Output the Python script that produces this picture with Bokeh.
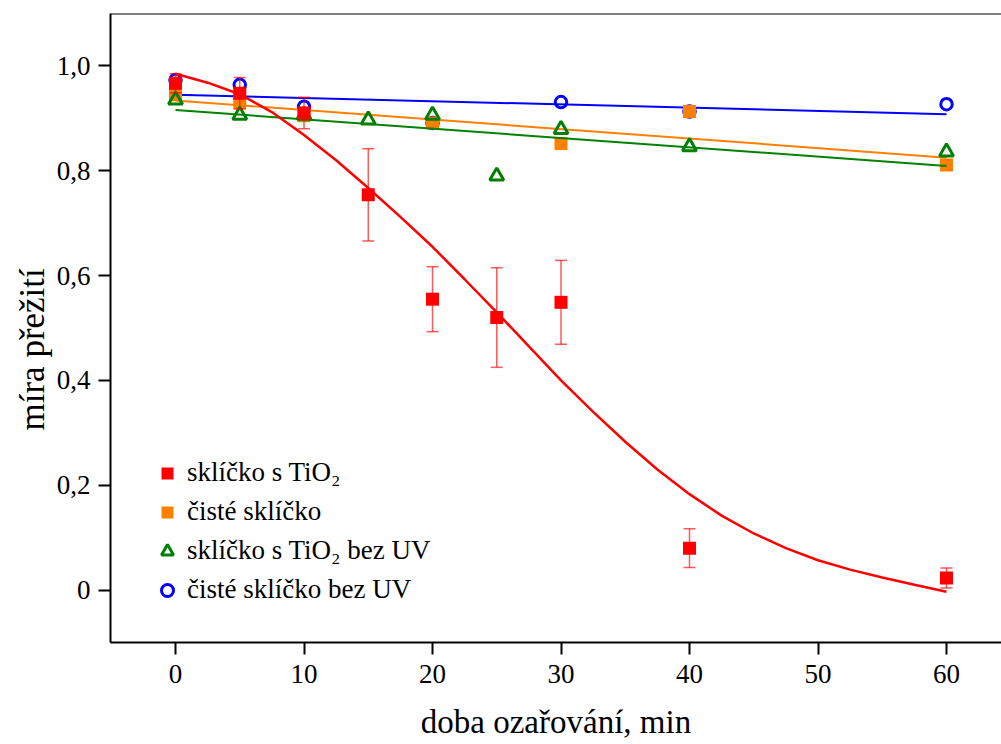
from bokeh.plotting import figure
from bokeh.models import (ColumnDataSource, Whisker, TeeHead, Legend, LegendItem,
                          FixedTicker, CustomJSTickFormatter, Span, Range1d, Title)
from bokeh.embed import file_html
from bokeh.resources import INLINE

# ---- data ----
time_tio2 = [0, 5, 10, 15, 20, 25, 30, 40, 60]
surv_tio2 = [0.967, 0.948, 0.910, 0.754, 0.555, 0.520, 0.549, 0.080, 0.023]
err_tio2 = [0.018, 0.030, 0.030, 0.088, 0.062, 0.095, 0.080, 0.037, 0.019]

time_clean = [0, 5, 10, 20, 30, 40, 60]
surv_clean = [0.945, 0.930, 0.905, 0.891, 0.852, 0.913, 0.811]

time_tio2_dark = [0, 5, 10, 15, 20, 25, 30, 40, 60]
surv_tio2_dark = [0.935, 0.906, 0.906, 0.897, 0.906, 0.790, 0.879, 0.846, 0.836]

time_clean_dark = [0, 5, 10, 20, 30, 40, 60]
surv_clean_dark = [0.973, 0.964, 0.922, 0.891, 0.931, 0.913, 0.927]

fit_x = [0, 60]
fit_clean = [0.934, 0.825]
fit_tio2_dark = [0.916, 0.809]
fit_clean_dark = [0.945, 0.908]

fit_tio2_x = [0, 2.5, 5, 7.5, 10, 12.5, 15, 17.5, 20, 22.5, 25, 27.5, 30,
              32.5, 35, 37.5, 40, 42.5, 45, 47.5, 50, 52.5, 55, 57.5, 60]
fit_tio2_y = [0.985, 0.968, 0.946, 0.912, 0.868, 0.820, 0.767, 0.712, 0.655,
              0.593, 0.530, 0.465, 0.400, 0.340, 0.283, 0.230, 0.183, 0.142,
              0.108, 0.080, 0.057, 0.039, 0.024, 0.010, -0.003]

labels = ["sklíčko s TiO₂", "čisté sklíčko", "sklíčko s TiO₂ bez UV", "čisté sklíčko bez UV"]
x_title = "doba ozařování, min"
y_title = "míra přežití"
y_ticks = [0, 0.2, 0.4, 0.6, 0.8, 1.0]
x_ticks = [0, 10, 20, 30, 40, 50, 60]
x_lim = (-5.06, 64.28)
y_lim = (-0.1, 1.1)

RED = "#ff0000"
ORANGE = "#ff8000"
GREEN = "#008000"
BLUE = "#0000ff"
FONT = "Liberation Serif"

p = figure(width=1001, height=744, output_backend="svg", toolbar_location=None,
           x_range=Range1d(*x_lim), y_range=Range1d(*y_lim),
           min_border_left=110, min_border_right=0, min_border_top=13,
           min_border_bottom=102)
p.outline_line_color = None
p.xgrid.visible = False
p.ygrid.visible = False
p.background_fill_color = "white"

# top frame line
p.add_layout(Span(location=y_lim[1], dimension="width", line_color="black", line_width=2))

# blue (clean, no UV)
p.line(fit_x, fit_clean_dark, line_color=BLUE, line_width=2)
r_blue = p.scatter(time_clean_dark, surv_clean_dark, marker="circle", size=11.5,
                   fill_color=None, line_color=BLUE, line_width=3)
# orange (clean)
p.line(fit_x, fit_clean, line_color=ORANGE, line_width=2)
r_orange = p.scatter(time_clean, surv_clean, marker="square", size=13,
                     fill_color=ORANGE, line_color=ORANGE, line_width=0)
# green (TiO2, no UV)
p.line(fit_x, fit_tio2_dark, line_color=GREEN, line_width=2)
r_green = p.scatter(time_tio2_dark, surv_tio2_dark, marker="triangle", size=14,
                    fill_color=None, line_color=GREEN, line_width=3)
# red (TiO2)
src = ColumnDataSource(dict(x=time_tio2, y=surv_tio2,
                            upper=[v + e for v, e in zip(surv_tio2, err_tio2)],
                            lower=[v - e for v, e in zip(surv_tio2, err_tio2)]))
wh = Whisker(source=src, base="x", upper="upper", lower="lower",
             line_color=RED, line_alpha=0.65, line_width=1.5, level="glyph",
             upper_head=TeeHead(size=12, line_color=RED, line_alpha=0.65, line_width=1.5),
             lower_head=TeeHead(size=12, line_color=RED, line_alpha=0.65, line_width=1.5))
p.add_layout(wh)
r_red = p.scatter("x", "y", source=src, marker="square", size=13,
                  fill_color=RED, line_color=RED, line_width=0)
p.line(fit_tio2_x, fit_tio2_y, line_color=RED, line_width=2.5)

# axes
for ax in (p.xaxis[0], p.yaxis[0]):
    ax.axis_line_width = 2
    ax.major_tick_line_width = 2
    ax.major_tick_out = 12
    ax.major_tick_in = 0
    ax.minor_tick_line_color = None
    ax.major_label_text_font = FONT
    ax.major_label_text_font_size = "27px"
    ax.major_label_text_color = "black"
    ax.axis_label_text_font = FONT
    ax.axis_label_text_font_style = "normal"
    ax.axis_label_text_color = "black"

p.xaxis.ticker = FixedTicker(ticks=x_ticks)
p.yaxis.ticker = FixedTicker(ticks=y_ticks)
p.yaxis.formatter = CustomJSTickFormatter(
    code='return tick == 0 ? "0" : tick.toFixed(1).replace(".", ",");')
p.xaxis.major_label_standoff = 10
p.yaxis.major_label_standoff = 8
p.xaxis.axis_label = x_title
p.xaxis.axis_label_text_font_size = "33px"
p.xaxis.axis_label_standoff = 18

# y title placed like the reference (slightly below the axis centre)
p.add_layout(Title(text=y_title, align="left", offset=212, text_font=FONT,
                   text_font_size="35px", text_font_style="normal",
                   text_color="black", standoff=4), "left")

legend = Legend(items=[LegendItem(label=labels[0], renderers=[r_red]),
                       LegendItem(label=labels[1], renderers=[r_orange]),
                       LegendItem(label=labels[2], renderers=[r_green]),
                       LegendItem(label=labels[3], renderers=[r_blue])],
                location=(42, 37), glyph_width=30, glyph_height=30,
                label_standoff=5, spacing=8, padding=0, margin=0,
                label_text_font=FONT, label_text_font_size="27px",
                label_text_color="black",
                border_line_color=None, background_fill_alpha=0)
p.add_layout(legend, "center")

open("out.html", "w").write(file_html(p, INLINE))
